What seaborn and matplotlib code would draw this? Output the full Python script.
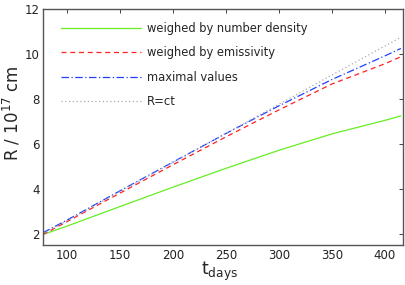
import matplotlib
matplotlib.use("Agg")
import matplotlib.pyplot as plt
import seaborn as sns
import pandas as pd

sns.set_style("white")
plt.rcParams['font.family'] = ['DejaVu Sans']

# time in days
t_days = [77, 100, 150, 200, 250, 300, 350, 400, 415]

# radius in units of 1e17 cm
r_number_density = [1.97, 2.35, 3.22, 4.08, 4.92, 5.72, 6.45, 7.05, 7.25]
r_emissivity = [1.97, 2.55, 3.82, 5.08, 6.32, 7.52, 8.67, 9.57, 9.88]
r_maximal = [2.05, 2.62, 3.92, 5.20, 6.47, 7.70, 8.87, 9.92, 10.25]
r_ct = [2.00, 2.59, 3.89, 5.18, 6.48, 7.77, 9.07, 10.36, 10.75]

labels = ['weighed by number density', 'weighed by emissivity',
          'maximal values', 'R=ct']
series = [r_number_density, r_emissivity, r_maximal, r_ct]
colors = ['#66ee22', '#ff2020', '#2040ff', '#aaaaaa']
dashes = ['-', (0, (4, 3)), (0, (6, 2, 1, 2)), (0, (1, 2))]

fig = plt.figure(figsize=(4.05, 2.85), dpi=100)
ax = fig.add_axes([0.106, 0.14, 0.889, 0.828])

for lab, vals, col, ls in zip(labels, series, colors, dashes):
    df = pd.DataFrame({'t': t_days, 'R': vals})
    sns.lineplot(data=df, x='t', y='R', ax=ax, color=col, linestyle=ls,
                 linewidth=0.9, label=lab)

ax.set_xlim(77, 417)
ax.set_ylim(1.5, 12)
ax.set_xticks([100, 150, 200, 250, 300, 350, 400])
ax.set_yticks([2, 4, 6, 8, 10, 12])
ax.tick_params(direction='in', length=3, top=True, right=True,
               labelsize=8.5, colors='#222222', width=0.6, pad=2.5)
for s in ax.spines.values():
    s.set_color('#555555')
    s.set_linewidth(1.0)

ax.set_xlabel(r'$\mathregular{t_{days}}$', fontsize=12.5)
ax.xaxis.set_label_coords(0.49, -0.064)
ax.set_ylabel(r'R / 10$^{17}$ cm', fontsize=12)
ax.yaxis.set_label_coords(-0.058, 0.56)

ax.legend(loc='upper left', frameon=False, handlelength=7.0,
          fontsize=8.3, labelspacing=1.0, handletextpad=0.5,
          bbox_to_anchor=(0.02, 0.99))

fig.savefig('out.png', dpi=100)
